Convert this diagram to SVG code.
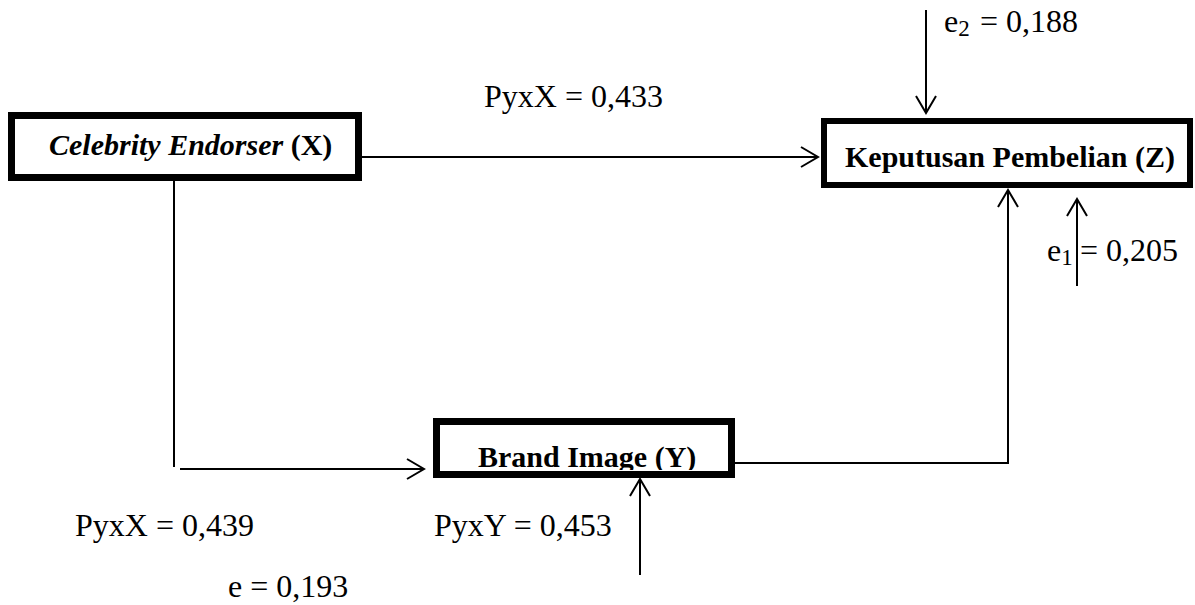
<svg xmlns="http://www.w3.org/2000/svg" width="1195" height="605" viewBox="0 0 1195 605">
<style>
.box{fill:#fff;stroke:#000;stroke-width:7}
.ln{fill:none;stroke:#000;stroke-width:2}
.bt{font-family:"Liberation Serif","Times New Roman",serif;font-weight:bold;font-size:30px;fill:#000}
.lb{font-family:"Liberation Serif","Times New Roman",serif;font-size:32px;fill:#000}
.sub{font-size:23px}
</style>
<defs>
<marker id="ah" markerUnits="userSpaceOnUse" markerWidth="24" markerHeight="24" refX="18" refY="11" orient="auto" viewBox="0 0 24 24">
<path d="M1,1 L18,11 L1,21" fill="none" stroke="#000" stroke-width="2"/>
</marker>
<clipPath id="cy"><rect x="440" y="425" width="288" height="45"/></clipPath>
</defs>
<g id="connectors">
<line class="ln" x1="362" y1="157" x2="818" y2="157" marker-end="url(#ah)"/>
<line class="ln" x1="174" y1="181" x2="174" y2="467"/>
<line class="ln" x1="180" y1="469" x2="424" y2="469" marker-end="url(#ah)"/>
<polyline class="ln" points="735,463 1008,463 1008,190" marker-end="url(#ah)"/>
<line class="ln" x1="926" y1="10" x2="926" y2="113" marker-end="url(#ah)"/>
<line class="ln" x1="1077" y1="286" x2="1077" y2="199" marker-end="url(#ah)"/>
<line class="ln" x1="640" y1="575" x2="640" y2="479" marker-end="url(#ah)"/>
</g>
<g id="nodeX">
<rect class="box" x="11.5" y="115.5" width="347" height="62"/>
<text class="bt" x="49" y="155"><tspan font-style="italic">Celebrity Endorser</tspan> (X)</text>
</g>
<g id="nodeZ">
<rect class="box" x="824" y="121" width="366" height="64" style="stroke-width:6"/>
<text class="bt" x="845" y="167">Keputusan Pembelian (Z)</text>
</g>
<g id="nodeY">
<rect class="box" x="436.5" y="421.5" width="295" height="53"/>
<text class="bt" x="478" y="467" clip-path="url(#cy)">Brand Image (Y)</text>
</g>
<g id="labels">
<text class="lb" x="484" y="107">PyxX = 0,433</text>
<text class="lb" x="944" y="32">e<tspan class="sub" dy="4">2</tspan><tspan dy="-4" x="980">= 0,188</tspan></text>
<text class="lb" x="1047" y="261">e<tspan class="sub" dy="4">1</tspan><tspan dy="-4" x="1080">= 0,205</tspan></text>
<text class="lb" x="75" y="536">PyxX = 0,439</text>
<text class="lb" x="434" y="536">PyxY = 0,453</text>
<text class="lb" x="228" y="597">e = 0,193</text>
</g>
</svg>
